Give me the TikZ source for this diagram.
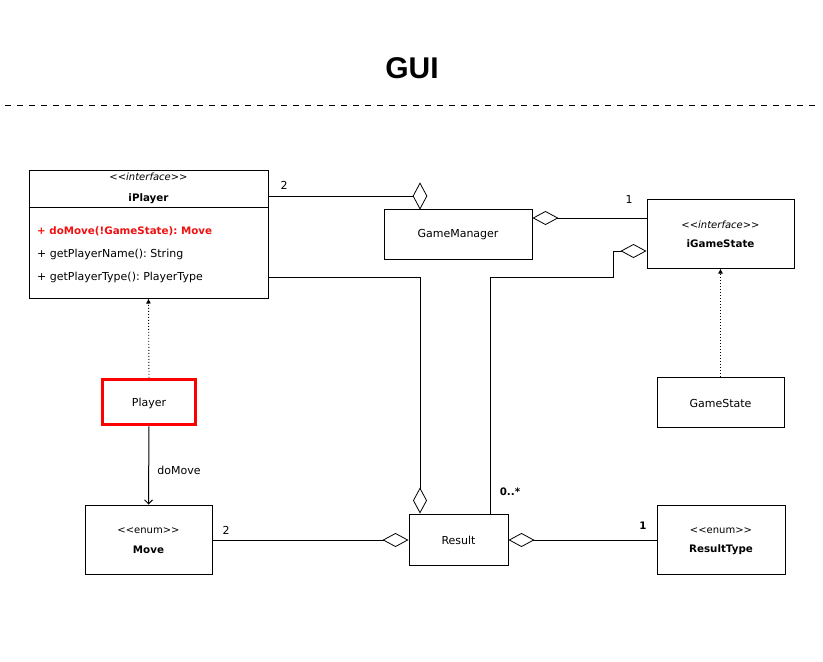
\documentclass[tikz,border=0pt]{standalone}
\usepackage{fontspec}
\setmainfont{DejaVu Sans}
\newfontfamily\titlefont{Liberation Sans}
\usetikzlibrary{arrows.meta,shapes.geometric}
\definecolor{umlred}{HTML}{F01010}
\begin{document}
\frenchspacing
\begin{tikzpicture}[x=1pt,y=-1pt,
  box/.style={draw=black,line width=1pt,fill=white,inner sep=0pt},
  txt/.style={inner sep=0pt,font=\fontsize{11}{13}\selectfont},
  bld/.style={inner sep=0pt,font=\fontsize{10.3}{12}\selectfont\bfseries},
  stereo/.style={inner sep=0pt,font=\fontsize{10}{12}\selectfont},
  agg/.style={draw=black,line width=1pt,-{Diamond[open,length=26pt,width=14pt,line width=0.8pt]}},
  aggdia/.style={diamond,draw=black,line width=0.8pt,fill=white,minimum width=14pt,minimum height=26pt,inner sep=0pt},
  real/.style={draw=black,line width=0.9pt,dash pattern=on 1pt off 2pt,-{Latex[length=5pt,width=5pt]}},
  dep/.style={draw=black,line width=1pt,-{Straight Barb[length=4pt,width=8pt]}}]
\useasboundingbox (0,0) rectangle (823,662);
\fill[white] (0,0) rectangle (823,662);
% title
\node[inner sep=0pt,font=\fontsize{30}{34}\titlefont\bfseries] (title) at (412,68) {GUI};
\coordinate (dl) at (5,105);
\coordinate (dr) at (820,105);
\draw[line width=1pt,dash pattern=on 6pt off 6pt] (dl) -- (dr);
% iPlayer
\node[box,minimum width=239pt,minimum height=128pt] (iPlayer) at (148.5,234) {};
\draw[line width=1pt] (iPlayer.north west |- 0,207) -- (iPlayer.north east |- 0,207);
\node[stereo,font=\fontsize{10}{12}\selectfont\itshape] (ipst) at (148.5,177) {<{}<interface>{}>};
\node[bld] (ipname) at (148.5,199) {iPlayer};
\node[bld,anchor=west,text=umlred] (m1) at (37,231) {+ doMove(!GameState): Move};
\node[txt,anchor=west] (m2) at (37,254) {+ getPlayerName(): String};
\node[txt,anchor=west] (m3) at (37,277) {+ getPlayerType(): PlayerType};
% GameManager
\node[box,minimum width=148pt,minimum height=50pt] (gm) at (458,234) {};
\node[txt] (gmt) at (458,235) {GameManager};
% iGameState
\node[box,minimum width=147pt,minimum height=69pt] (igs) at (720.5,233.5) {};
\node[stereo,font=\fontsize{10}{12}\selectfont\itshape] (igst) at (720.5,225) {<{}<interface>{}>};
\node[bld] (igsn) at (720.5,244) {iGameState};
% Player
\node[draw=red,line width=3.5pt,minimum width=93pt,minimum height=45pt,inner sep=0pt] (pl) at (149,402) {};
\node[txt] (plt) at (149,403) {Player};
% GameState
\node[box,minimum width=127pt,minimum height=50pt] (gs) at (720.5,402) {};
\node[txt] (gst) at (720.5,403) {GameState};
% Move
\node[box,minimum width=127pt,minimum height=69pt] (mv) at (148.5,539.5) {};
\node[stereo] (mvst) at (148.5,531) {<{}<enum>{}>};
\node[bld] (mvn) at (148.5,550) {Move};
% Result
\node[box,minimum width=99pt,minimum height=51pt] (res) at (458.5,539.5) {};
\node[txt] (rest) at (458.5,540) {Result};
% ResultType
\node[box,minimum width=128pt,minimum height=69pt] (rt) at (721,539.5) {};
\node[stereo] (rtst) at (721,531) {<{}<enum>{}>};
\node[bld] (rtn) at (721,550) {ResultType};
% connectors
\node[aggdia] (d1) at (420,196) {};
\draw[line width=1pt] (iPlayer.east |- d1) -- (d1.west);
\draw[agg] (igs.west |- 0,218) -- (gm.east |- 0,218);
\coordinate (k1) at (613,277);
\draw[agg] (490,0 |- res.north) |- (k1) |- (igs.west |- 0,251);
\draw[agg] (iPlayer.east |- 0,277) -| (420,0 |- res.north);
\draw[agg] (mv.east |- 0,540) -- (res.west |- 0,540);
\draw[agg] (rt.west |- 0,540) -- (res.east |- 0,540);
\draw[real] (pl.north) -- (iPlayer.south);
\draw[real] (gs.north) -- (igs.south);
\draw[dep] (pl.south) -- (mv.north);
% labels
\node[txt] (l2a) at (284,185) {2};
\node[txt] (l1a) at (629,199) {1};
\node[bld] (lmany) at (510,492) {0..*};
\node[txt] (l2b) at (226,530) {2};
\node[bld] (l1b) at (643,526) {1};
\node[txt] (dm) at (179,470) {doMove};
\end{tikzpicture}
\end{document}
